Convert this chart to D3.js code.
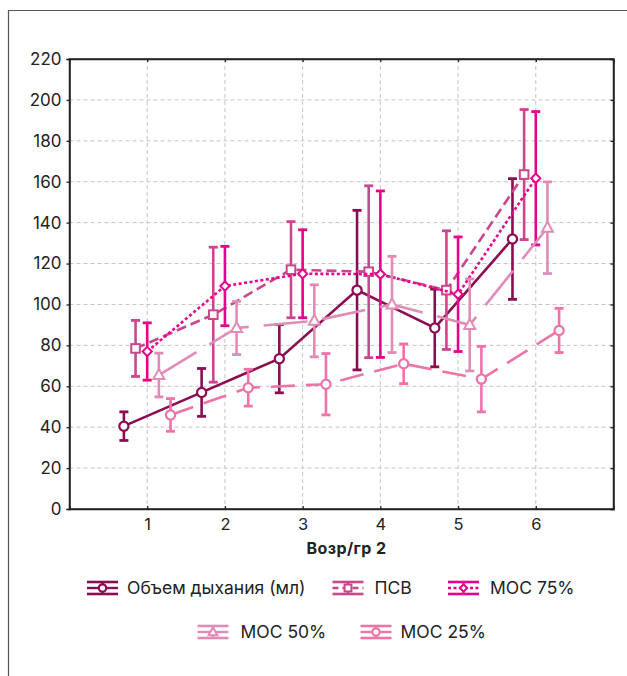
<!DOCTYPE html>
<html><head><meta charset="utf-8">
<script src="https://cdn.jsdelivr.net/npm/d3@7"></script>
<style>
html,body{margin:0;padding:0;background:#fff;}
svg{display:block;font-family:Inter,"Liberation Sans",sans-serif;}
</style></head>
<body>
<svg id="chart" width="627" height="676"></svg>
<script>
// ---- data ----
const groups = [1, 2, 3, 4, 5, 6];
const yTicks = [0, 20, 40, 60, 80, 100, 120, 140, 160, 180, 200, 220];
const xTitle = "Возр/гр 2";
const seriesNames = ["Объем дыхания (мл)", "ПСВ", "МОС 75%", "МОС 50%", "МОС 25%"];
const volumeMean = [40.5, 57, 73.5, 107, 88.5, 132];
const volumeErr  = [7, 11.7, 16.7, 39, 19, 29.5];
const psvMean    = [78.5, 95, 117, 116, 107, 163.5];
const psvErr     = [13.7, 33, 23.5, 42, 29, 31.8];
const mos75Mean  = [77, 109, 115, 114.8, 105, 161.7];
const mos75Err   = [14, 19.4, 21.5, 40.7, 28, 32.6];
const mos50Mean  = [65.5, 88.5, 92, 100, 90, 137.5];
const mos50Err   = [10.7, 13, 17.6, 23.5, 22.5, 22.4];
const mos25Mean  = [46, 59.3, 61, 71, 63.5, 87.3];
const mos25Err   = [8, 9, 15, 9.7, 16, 10.8];

// ---- styles ----
const styles = [
  {color:"#8c0c52", dash:null,    marker:"circle",   offset:-0.3},
  {color:"#c9478b", dash:"10,5",  marker:"square",   offset:-0.15},
  {color:"#e8008c", dash:"3,2.5", marker:"diamond",  offset:0},
  {color:"#e18cb6", dash:"44,15", marker:"triangle", offset:0.15},
  {color:"#ee73a9", dash:"24,11", marker:"circle",   offset:0.3}
];
const means = [volumeMean, psvMean, mos75Mean, mos50Mean, mos25Mean];
const errs  = [volumeErr, psvErr, mos75Err, mos50Err, mos25Err];
const series = seriesNames.map((name, i) => ({
  name, style: styles[i],
  points: groups.map((g, j) => ({g, v: means[i][j], e: errs[i][j]}))
}));

const svg = d3.select("#chart");
const L = 69.5, R = 613.5, T = 59, B = 509;
const x = d3.scaleLinear().domain([0, 7]).range([L, R]);
const y = d3.scaleLinear().domain([0, 220]).range([B, T]);

// outer frame
svg.append("path").attr("d", "M8.5,676V10.5H627").attr("fill","none").attr("stroke","#555").attr("stroke-width",1.2);

// grid
const grid = svg.append("g");
grid.selectAll("line.h").data(yTicks.filter(t => t > 0 && t < 220)).join("line")
  .attr("x1", L).attr("x2", R).attr("y1", d => y(d)).attr("y2", d => y(d))
  .attr("stroke", "#c4c4c4").attr("stroke-dasharray", "4,3").attr("stroke-width", 1);
grid.selectAll("line.v").data(groups).join("line")
  .attr("y1", T).attr("y2", B).attr("x1", d => x(d)).attr("x2", d => x(d))
  .attr("stroke", "#c4c4c4").attr("stroke-dasharray", "4,3").attr("stroke-width", 1);

// axes
const yAxis = svg.append("g").attr("transform", `translate(${L},0)`)
  .call(d3.axisLeft(y).tickValues(yTicks).tickSize(3).tickPadding(5).tickFormat(d3.format("d")));
const yAxisR = svg.append("g").attr("transform", `translate(${R},0)`)
  .call(d3.axisRight(y).tickValues(yTicks).tickSize(-3).tickFormat(""));
const xAxis = svg.append("g").attr("transform", `translate(0,${B})`)
  .call(d3.axisBottom(x).tickValues(groups).tickSize(-3).tickPadding(9).tickFormat(d3.format("d")));
const xAxisT = svg.append("g").attr("transform", `translate(0,${T})`)
  .call(d3.axisTop(x).tickValues(groups).tickSize(-3).tickFormat(""));
[yAxis, yAxisR, xAxis, xAxisT].forEach(a => {
  a.select(".domain").attr("stroke", "#222").attr("stroke-width", 1.5);
  a.selectAll(".tick line").attr("stroke", "#222").attr("stroke-width", 1.3);
  a.selectAll("text").attr("fill", "#222").attr("font-size", 17).attr("font-family", "Inter, sans-serif");
});
xAxis.selectAll("text").attr("dy", "0.71em").attr("font-size", 16.5);
svg.append("rect").attr("x", L).attr("y", T).attr("width", R - L).attr("height", B - T)
  .attr("fill", "none").attr("stroke", "#222").attr("stroke-width", 1.5);

svg.append("text").attr("x", (L + R) / 2 + 5).attr("y", 553.5).attr("text-anchor", "middle")
  .attr("font-weight", "bold").attr("font-size", 16).attr("letter-spacing", 0.4).attr("fill", "#222").text(xTitle);

// marker drawing
function drawMarker(sel, type, color, k) {
  k = k || 1;
  if (type === "circle") {
    sel.append("circle").attr("r", 4.6 * k).attr("fill", "#fff").attr("stroke", color).attr("stroke-width", 2.2);
  } else if (type === "square") {
    sel.append("rect").attr("x", -4.3 * k).attr("y", -4.3 * k).attr("width", 8.6 * k).attr("height", 8.6 * k)
      .attr("fill", "#fff").attr("stroke", color).attr("stroke-width", 2);
  } else if (type === "diamond") {
    sel.append("path").attr("d", `M0,${-4.6*k}L${4.6*k},0L0,${4.6*k}L${-4.6*k},0Z`).attr("fill", "#fff").attr("stroke", color).attr("stroke-width", 2);
  } else if (type === "triangle") {
    sel.append("path").attr("d", `M0,${-6*k}L${5.5*k},${4*k}L${-5.5*k},${4*k}Z`).attr("fill", "#fff").attr("stroke", color).attr("stroke-width", 2);
  }
}

const line = d3.line().x(d => x(d.g + d.off)).y(d => y(d.v));
const cap = 4.5;
series.forEach(s => {
  const st = s.style;
  const g = svg.append("g");
  const pts = s.points.map(p => ({...p, off: st.offset}));
  g.append("path").datum(pts).attr("d", line).attr("fill", "none")
    .attr("stroke", st.color).attr("stroke-width", 2.6)
    .attr("stroke-dasharray", st.dash);
  const eb = g.selectAll("g.eb").data(pts).join("g");
  eb.append("line").attr("x1", d => x(d.g + d.off)).attr("x2", d => x(d.g + d.off))
    .attr("y1", d => y(d.v + d.e)).attr("y2", d => y(d.v - d.e))
    .attr("stroke", st.color).attr("stroke-width", 2.6);
  eb.append("line").attr("x1", d => x(d.g + d.off) - cap).attr("x2", d => x(d.g + d.off) + cap)
    .attr("y1", d => y(d.v + d.e)).attr("y2", d => y(d.v + d.e))
    .attr("stroke", st.color).attr("stroke-width", 2.8);
  eb.append("line").attr("x1", d => x(d.g + d.off) - cap).attr("x2", d => x(d.g + d.off) + cap)
    .attr("y1", d => y(d.v - d.e)).attr("y2", d => y(d.v - d.e))
    .attr("stroke", st.color).attr("stroke-width", 2.8);
  const mk = g.selectAll("g.mk").data(pts).join("g")
    .attr("transform", d => `translate(${x(d.g + d.off)},${y(d.v)})`);
  mk.each(function() { drawMarker(d3.select(this), st.marker, st.color); });
});

// legend
const legendPos = [
  {sx: 87, cy: 588, tx: 127},
  {sx: 332.5, cy: 588, tx: 374.5},
  {sx: 448, cy: 588, tx: 490},
  {sx: 197.5, cy: 632, tx: 240.5},
  {sx: 360.5, cy: 632, tx: 400.5}
];
series.forEach((s, i) => {
  const p = legendPos[i], st = s.style, w = 31;
  const g = svg.append("g").attr("transform", `translate(${p.sx},${p.cy})`);
  [-6, 6].forEach(dy => g.append("line").attr("x1", 0).attr("x2", w).attr("y1", dy).attr("y2", dy)
    .attr("stroke", st.color).attr("stroke-width", 2.6));
  g.append("line").attr("x1", w / 2).attr("x2", w / 2).attr("y1", -6).attr("y2", 6)
    .attr("stroke", st.color).attr("stroke-width", 2.4);
  g.append("line").attr("x1", 0).attr("x2", w).attr("y1", 0).attr("y2", 0)
    .attr("stroke", st.color).attr("stroke-width", 2.4)
    .attr("stroke-dasharray", st.dash === "10,5" ? "6,4" : (st.dash === "3,2.5" ? st.dash : null));
  const m = g.append("g").attr("transform", `translate(${w / 2},0)`);
  drawMarker(m, st.marker, st.color, 0.8);
  svg.append("text").attr("x", p.tx).attr("y", p.cy + 6.3).attr("font-size", 17.5)
    .attr("fill", "#222").text(s.name);
});
</script>
</body></html>
